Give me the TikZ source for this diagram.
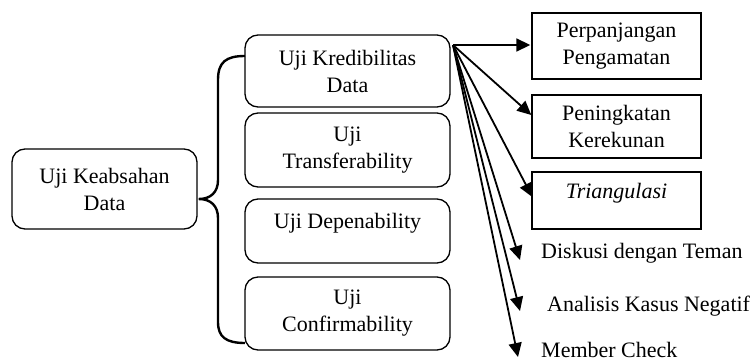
\documentclass[tikz,border=0pt]{standalone}
\usepackage{fontspec}
\setmainfont{Liberation Serif}
\usetikzlibrary{arrows.meta,calc}
\begin{document}
\begin{tikzpicture}[x=1pt,y=-1pt,
  every node/.style={font=\fontsize{22}{27}\selectfont, align=center, inner sep=0pt},
  rbox/.style={draw, line width=1.3pt, rounded corners=13pt},
  sbox/.style={draw, line width=1.4pt},
  arr/.style={line width=1.8pt, -{Triangle[length=14pt,width=13pt]}},
  brace/.style={line width=2.4pt}]
\useasboundingbox (0,0) rectangle (753,362);
% left
\node[rbox, minimum width=185pt, minimum height=80pt] (L) at (104.5,189) {Uji Keabsahan\\Data};
% middle
\node[rbox, minimum width=205pt, minimum height=72pt] (m1) at (347.5,71) {Uji Kredibilitas\\Data};
\node[rbox, minimum width=205pt, minimum height=74pt] (m2) at (347.5,150) {Uji\\Transferability};
\node[rbox, minimum width=205pt, minimum height=64pt] (m3) at (347.5,231) {};
\node (m3t) at (347.5,223) {Uji Depenability};
\node[rbox, minimum width=205pt, minimum height=73pt] (m4) at (347.5,313.5) {Uji\\Confirmability};
% right
\node[sbox, minimum width=169pt, minimum height=66pt] (A) at (616.5,46) {Perpanjangan\\Pengamatan};
\node[sbox, minimum width=169pt, minimum height=63pt] (B) at (616.5,126.5) {Peningkatan\\Kerekunan};
\node[sbox, minimum width=169pt, minimum height=57pt] (C) at (616.5,200.5) {};
\node (Ct) at (616.5,193) {\itshape Triangulasi};
\node[anchor=west] (D) at (541,253) {Diskusi dengan Teman};
\node[anchor=west] (E) at (547,306) {Analisis Kasus Negatif};
\node[anchor=west] (F) at (541,350) {Member Check};
% brace
\coordinate (tip) at ($(L.east)+(1,10)$);
\draw[brace] (245,56) .. controls (226,56) and (218,62) .. (218,80) -- (218,180)
  .. controls (218,192) and (211,199) .. (tip)
  .. controls (211,199) and (218,206) .. (218,218) -- (218,322)
  .. controls (218,337) and (226,343) .. (245,343);
% arrows
\coordinate (o) at (453,45);
\draw[arr] (o) -- ($(A.west)+(-1,-1)$);
\draw[arr] (o) -- ($(B.west)+(0,-11.5)$);
\draw[arr] (o) -- ($(C.west)+(1,-3.5)$);
\draw[arr] (o) -- ($(D.west)+(-21,7)$);
\draw[arr] (o) -- ($(E.west)+(-27,5)$);
\draw[arr] (o) -- ($(F.west)+(-23,7)$);
\end{tikzpicture}
\end{document}
